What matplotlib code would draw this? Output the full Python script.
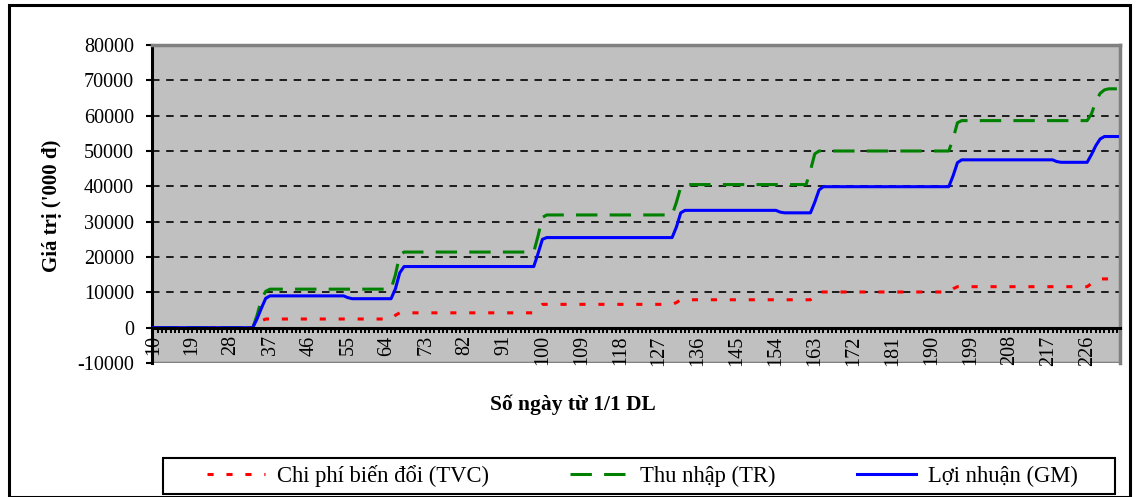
import matplotlib
matplotlib.use('Agg')
import matplotlib.pyplot as plt
from matplotlib.patches import Rectangle
import numpy as np

# days counted from 1/1 (lunar calendar)
first_day = 10
last_day = 233

# values as (level, number of days at that level)
tvc_levels = [0, 1900, 2450, 3500, 4200, 5500, 6600, 7100, 7900, 9000,
              10100, 11000, 11600, 12500, 13300, 13800]
tvc_runs = [25, 1, 30, 1, 32, 1, 31, 1, 31, 1, 31, 1, 31, 1, 1, 5]

tr_levels = [0, 3500, 8000, 10300, 10900, 15000, 20500, 21400, 26000, 31200,
             31900, 35500, 39800, 40500, 44500, 49200, 50000, 53500, 58000,
             58600, 60500, 64000, 66300, 67300, 67600]
tr_runs = [24, 1, 1, 1, 29, 1, 1, 31, 1, 1, 30, 1, 1, 29, 1, 1, 31, 1, 1,
           30, 1, 1, 1, 1, 3]

gm_levels = [0, 2500, 5500, 8300, 9000, 8500, 8200, 11000, 15500, 17300,
             21000, 25000, 25500, 28500, 32500, 33200, 32700, 32500, 35500,
             39000, 39900, 43000, 46700, 47500, 47000, 46800, 49000, 51500,
             53400, 54100]
gm_runs = [24, 1, 1, 1, 18, 1, 10, 1, 1, 31, 1, 1, 30, 1, 1, 22, 1, 7, 1, 1,
           30, 1, 1, 22, 1, 7, 1, 1, 1, 4]

y_ticks = [-10000, 0, 10000, 20000, 30000, 40000, 50000, 60000, 70000, 80000]
legend_labels = ["Chi phí biến đổi (TVC)", "Thu nhập (TR)", "Lợi nhuận (GM)"]

days = np.arange(first_day, last_day + 1)
label_days = np.arange(first_day, last_day + 1, 9)
tvc = np.repeat(tvc_levels, tvc_runs)
tr = np.repeat(tr_levels, tr_runs)
gm = np.repeat(gm_levels, gm_runs)

plt.rcParams['font.family'] = ['Liberation Serif', 'DejaVu Serif']

W, H = 1137, 497
fig = plt.figure(figsize=(W / 100, H / 100), dpi=100)
fig.patch.set_facecolor('white')

# outer chart border
fig.patches.append(Rectangle((9 / W, 0), 1121 / W, 1 - 5 / H,
                             transform=fig.transFigure, fill=False,
                             edgecolor='black', linewidth=2.2))

ax = fig.add_axes([152 / W, 1 - 363 / H, 968 / W, 318 / H])
ax.set_facecolor('#c0c0c0')

# axis line crosses at zero (set before ticks, it resets them)
ax.spines['bottom'].set_position(('data', 0))
ax.spines['bottom'].set_color('black')
ax.spines['bottom'].set_linewidth(2.2)
ax.spines['bottom'].set_zorder(5)
ax.spines['left'].set_color('black')
ax.spines['left'].set_linewidth(2.2)
ax.spines['top'].set_color('#808080')
ax.spines['top'].set_linewidth(2.5)
ax.spines['right'].set_color('#808080')
ax.spines['right'].set_linewidth(2.5)

# horizontal grid
for v in y_ticks[2:-1]:
    ax.axhline(v, color='black', linewidth=1.2, linestyle=(0, (4.5, 4.0)),
               zorder=1)
ax.axhline(-10000, color='#808080', linewidth=2.5, zorder=1)

l1, = ax.plot(days, tvc, color='red', linewidth=2.2,
              linestyle=(0, (2.0, 4.2)), zorder=3)
l2, = ax.plot(days, tr, color='#008000', linewidth=2.2,
              linestyle=(0, (7.0, 4.0)), zorder=3)
l3, = ax.plot(days, gm, color='#0000ff', linewidth=2.2, zorder=4)

ax.set_xlim(first_day - 0.3, last_day + 0.6)
ax.set_ylim(-10000, 80000)
ax.set_yticks(y_ticks)
ax.set_yticklabels([str(v) for v in y_ticks])
ax.set_xticks(label_days)
ax.set_xticks(days, minor=True)
ax.set_xticklabels([str(d) for d in label_days])

ax.tick_params(axis='y', direction='out', length=4, width=1.5, pad=9,
               labelsize=14.5)
ax.tick_params(axis='x', which='both', direction='out', length=3.5,
               width=1.4, pad=2)
ax.tick_params(axis='x', which='major', labelsize=14.5, labelrotation=90)

fig.text(52 / W, 1 - 206 / H, "Giá trị ('000 đ)", rotation=90,
         fontsize=15, fontweight='bold', ha='center', va='center')
fig.text(573 / W, 1 - 405 / H, "Số ngày từ 1/1 DL", fontsize=15.5,
         fontweight='bold', ha='center', va='center')

# legend box
fig.patches.append(Rectangle((163 / W, 1 - 494 / H), 952 / W, 36 / H,
                             transform=fig.transFigure, fill=False,
                             edgecolor='black', linewidth=1.5))
fig.legend([l1, l2, l3], legend_labels, loc='center',
           bbox_to_anchor=(642 / W, 1 - 476 / H), ncol=3, frameon=False,
           fontsize=16.3, handlelength=2.6, handletextpad=0.5,
           columnspacing=3.6)

fig.savefig('out.png', dpi=100)
